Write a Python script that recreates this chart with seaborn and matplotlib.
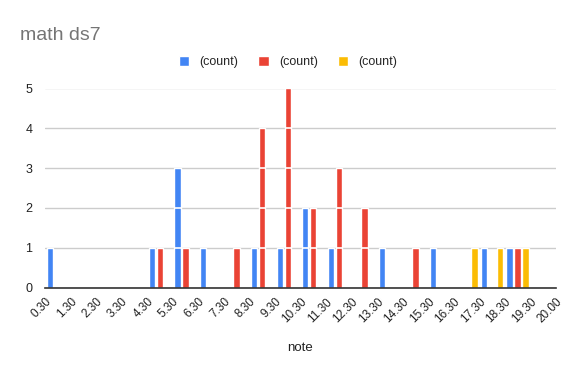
import matplotlib
matplotlib.use("Agg")
import numpy as np
import pandas as pd
import matplotlib.pyplot as plt
import seaborn as sns
from matplotlib.patches import Patch

# bucket edges shown on the x axis (histogram bins of width 1)
edge_labels = ["0.30", "1.30", "2.30", "3.30", "4.30", "5.30", "6.30", "7.30",
               "8.30", "9.30", "10.30", "11.30", "12.30", "13.30", "14.30",
               "15.30", "16.30", "17.30", "18.30", "19.30", "20.00"]
buckets = edge_labels[:-1]

# counts per bucket for each series
blue_counts = [1, 0, 0, 0, 1, 3, 1, 0, 1, 1, 2, 1, 0, 1, 0, 1, 0, 1, 1, 0]
red_counts = [0, 0, 0, 0, 1, 1, 0, 1, 4, 5, 2, 3, 2, 0, 1, 0, 0, 0, 1, 0]
yellow_counts = [0, 0, 0, 0, 0, 0, 0, 0, 0, 0, 0, 0, 0, 0, 0, 0, 1, 1, 1, 0]

series_keys = ["s1", "s2", "s3"]
series_labels = ["(count)", "(count)", "(count)"]
colors = ["#4285F4", "#EA4335", "#FBBC04"]

df = pd.concat([
    pd.DataFrame({"bucket": buckets, "count": c, "series": k})
    for k, c in zip(series_keys, [blue_counts, red_counts, yellow_counts])
])

sns.set_style("white")
plt.rcParams["font.family"] = ["Liberation Sans", "DejaVu Sans"]

fig = plt.figure(figsize=(5.75, 3.71), dpi=100)
ax = fig.add_axes([45 / 575, 1 - 287.5 / 371, 511 / 575, 199 / 371])

sns.barplot(data=df, x="bucket", y="count", hue="series", order=buckets,
            hue_order=series_keys, palette=colors, width=0.94, gap=0.2,
            saturation=1, legend=False, ax=ax, zorder=2)

# white breaks at each unit inside bars
for p in ax.patches:
    h = p.get_height()
    if h <= 0:
        continue
    x0, w = p.get_x(), p.get_width()
    for lvl in range(1, int(round(h))):
        ax.plot([x0, x0 + w], [lvl, lvl], color="white", lw=1.2, zorder=3,
                solid_capstyle="butt")

ax.set_ylim(0, 5)
ax.set_xlim(-0.5, len(buckets) - 0.5)
ax.set_yticks(range(0, 6))
ax.set_yticklabels([str(i) for i in range(0, 6)], fontsize=9, color="#222222")
ax.yaxis.grid(True, color="#cccccc", lw=1, zorder=0)
ax.set_axisbelow(True)

ax.set_xticks(np.arange(len(edge_labels)) - 0.5)
ax.set_xticklabels(edge_labels, rotation=45, ha="right", rotation_mode="anchor",
                   fontsize=8.5, color="#222222")
ax.tick_params(axis="both", length=0, pad=6)
ax.tick_params(axis="y", pad=9)

for s in ["top", "right", "left"]:
    ax.spines[s].set_visible(False)
ax.spines["bottom"].set_color("#333333")
ax.spines["bottom"].set_linewidth(1.2)
ax.spines["bottom"].set_zorder(4)

ax.set_xlabel("note", fontsize=9.5, color="#222222", labelpad=12)
ax.set_ylabel("")

fig.text(20 / 575, 1 - 35 / 371, "math ds7", fontsize=14, color="#757575",
         va="center", ha="left")

handles = [Patch(facecolor=c) for c in colors]
fig.legend(handles, series_labels, loc="center", bbox_to_anchor=(288 / 575, 1 - 62 / 371),
           ncol=3, frameon=False, fontsize=9, handlelength=0.85, handleheight=0.85,
           columnspacing=1.6, handletextpad=0.8)

fig.savefig("out.png", dpi=100)
